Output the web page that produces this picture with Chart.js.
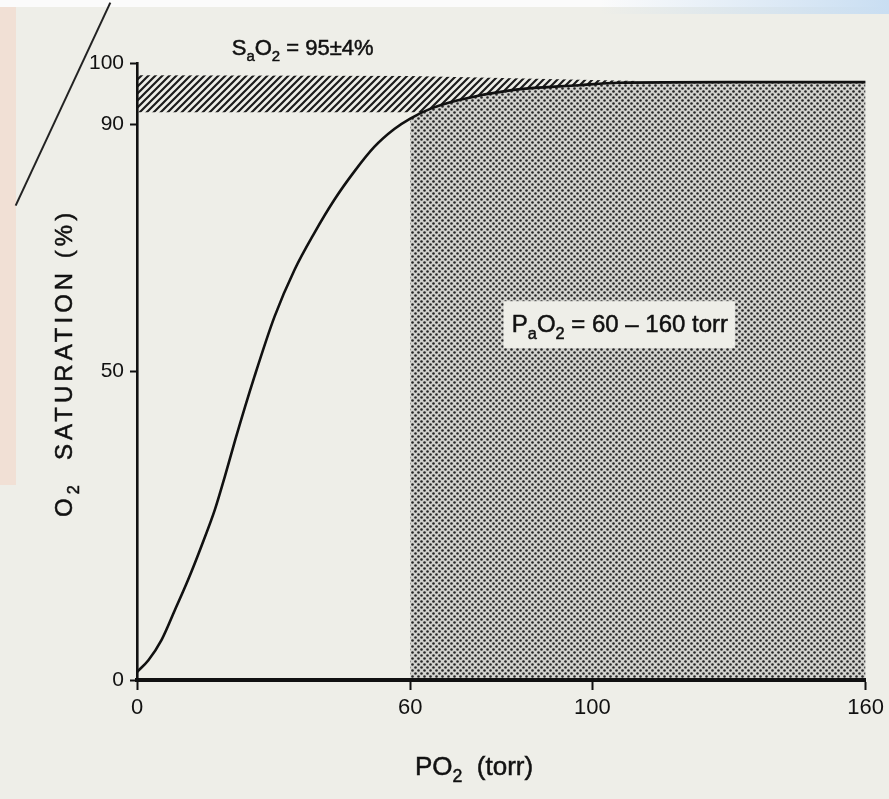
<!DOCTYPE html>
<html lang="pt-BR">
<head>
    <meta charset="UTF-8">
    <title>Curva de dissociação da oxi-hemoglobina</title>
    <script src="https://cdn.jsdelivr.net/npm/chart.js"></script>
    <style>
        body { margin: 0; background: #eeeee8; }
        #quadro { position: relative; width: 889px; height: 799px; overflow: hidden; }
        .scan { position: absolute; }
        canvas { position: absolute; left: 0; top: 0; }
    </style>
</head>
<body>
    <div id="quadro">
        <!-- marcas do scanner -->
        <div class="scan" style="left:0;top:0;width:889px;height:7px;background:#fbfbfb"></div>
        <div class="scan" style="left:600px;top:0;width:289px;height:14px;background:linear-gradient(to right, rgba(205,226,244,0), #c9def2)"></div>
        <div class="scan" style="left:0;top:7px;width:16px;height:478px;background:#f1e0d5"></div>
        <div class="scan" style="left:62px;top:-8px;width:1.6px;height:224px;background:#222;transform:rotate(25deg)"></div>
        <canvas id="grafico" width="889" height="799"></canvas>
    </div>

    <script>
        // curva: PO2 (torr) x saturação (%)
        const pO2 = [0, 2.5, 5.4, 8.3, 11.2, 14.1, 17.1, 19.3, 21.6, 25.8, 30.2, 34.6, 38.9, 43.3, 47.7, 52.1, 56.5, 60, 64.5, 70.7, 82.3, 97, 105.7, 130, 160];
        const saturacao = [1.3, 3.2, 6.5, 11.3, 16.2, 21.6, 27.6, 33, 39, 49.2, 58.9, 66.5, 72.4, 77.8, 82.4, 86.4, 89.3, 91.0, 92.6, 94, 95.6, 96.4, 96.8, 96.9, 96.9];

        // faixa hachurada SaO2 = 95 ± 4% (contorno do polígono)
        const hachuraX = [0, 60, 110, 110, 105.7, 97, 82.3, 70.7, 64.5, 62.7, 0];
        const hachuraY = [98, 97.9, 97.1, 96.8, 96.8, 96.4, 95.6, 94, 92.6, 92, 92];

        const inicioPontilhado = 60; // PaO2 = 60 - 160 torr

        const ticksX = [0, 60, 100, 160];
        const ticksY = [0, 50, 90, 100];

        const fonte = '"Liberation Sans", Arial, sans-serif';
        const tinta = '#111';

        const curva = pO2.map((x, i) => ({ x: x, y: saturacao[i] }));
        const pontilhado = curva.filter(p => p.x >= inicioPontilhado);
        const hachura = hachuraX.map((x, i) => ({ x: x, y: hachuraY[i] }));

        function padraoHachura() {
            const c = document.createElement('canvas');
            c.width = 7; c.height = 7;
            const g = c.getContext('2d');
            g.strokeStyle = '#1c1c1c';
            g.lineWidth = 2.2;
            g.beginPath();
            g.moveTo(-1, 8); g.lineTo(8, -1);
            g.moveTo(-1, 1); g.lineTo(1, -1);
            g.moveTo(6, 8); g.lineTo(8, 6);
            g.stroke();
            return g.createPattern(c, 'repeat');
        }

        function padraoPontos() {
            const c = document.createElement('canvas');
            c.width = 6; c.height = 6;
            const g = c.getContext('2d');
            g.fillStyle = '#d2d2ce';
            g.fillRect(0, 0, 6, 6);
            g.fillStyle = '#262626';
            [[1.5, 1.5], [4.5, 4.5]].forEach(([px, py]) => {
                g.beginPath(); g.arc(px, py, 1.3, 0, Math.PI * 2); g.fill();
            });
            return g.createPattern(c, 'repeat');
        }

        // escreve texto com subscritos, devolve a largura
        function escreve(ctx, x0, y0, partes, tam) {
            let cx = x0;
            partes.forEach(p => {
                const t = p.sub ? tam * 0.68 : tam;
                ctx.font = t + 'px ' + fonte;
                const yy = p.sub ? y0 + tam * 0.28 : y0;
                ctx.fillText(p.t, cx, yy);
                ctx.strokeText(p.t, cx, yy);
                cx += ctx.measureText(p.t).width;
            });
            return cx - x0;
        }

        const notas = {
            id: 'notas',
            afterDatasetsDraw(chart, args, opts) {
                const { ctx, chartArea: area, scales: { x, y } } = chart;
                ctx.save();
                ctx.textBaseline = 'alphabetic';
                ctx.textAlign = 'left';

                // caixa do PaO2
                const b = opts.caixa;
                const bx0 = x.getPixelForValue(b.x0), bx1 = x.getPixelForValue(b.x1);
                const by0 = y.getPixelForValue(b.y1), by1 = y.getPixelForValue(b.y0);
                ctx.fillStyle = '#eeeee8';
                ctx.fillRect(bx0, by0, bx1 - bx0, by1 - by0);

                ctx.fillStyle = tinta;
                ctx.strokeStyle = tinta;
                ctx.lineWidth = 0.5;
                escreve(ctx, x.getPixelForValue(opts.pa.x), y.getPixelForValue(opts.pa.y), [
                    { t: 'P' }, { t: 'a', sub: true }, { t: 'O' }, { t: '2', sub: true }, { t: ' = 60 \u2013 160 torr' }
                ], 24);

                escreve(ctx, x.getPixelForValue(opts.sa.x), y.getPixelForValue(opts.sa.y), [
                    { t: 'S' }, { t: 'a', sub: true }, { t: 'O' }, { t: '2', sub: true }, { t: ' = 95\u00b14%' }
                ], 22);

                // título do eixo x
                escreve(ctx, area.left + 278, area.bottom + 95, [
                    { t: 'PO' }, { t: '2', sub: true }, { t: '  (torr)' }
                ], 26);

                // título do eixo y
                ctx.translate(area.left - 65, area.bottom - 163);
                ctx.rotate(-Math.PI / 2);
                ctx.letterSpacing = '4px';
                escreve(ctx, 0, 0, [
                    { t: 'O' }, { t: '2', sub: true }, { t: '  SATURATION (%)' }
                ], 24);
                ctx.restore();
            }
        };

        const ctx = document.getElementById('grafico').getContext('2d');
        const grafico = new Chart(ctx, {
            type: 'line',
            data: {
                datasets: [
                    {
                        label: 'Saturação',
                        data: curva,
                        borderColor: '#111',
                        borderWidth: 2.6,
                        pointRadius: 0,
                        cubicInterpolationMode: 'monotone',
                        fill: false
                    },
                    {
                        label: 'PaO2',
                        data: pontilhado,
                        borderWidth: 0,
                        pointRadius: 0,
                        cubicInterpolationMode: 'monotone',
                        backgroundColor: padraoPontos(),
                        fill: 'origin'
                    },
                    {
                        label: 'SaO2',
                        data: hachura,
                        borderWidth: 0,
                        pointRadius: 0,
                        tension: 0,
                        backgroundColor: padraoHachura(),
                        fill: 'shape'
                    }
                ]
            },
            options: {
                responsive: false,
                animation: false,
                layout: { padding: { top: 63, right: 22, bottom: 0, left: 0 } },
                plugins: {
                    legend: { display: false },
                    tooltip: { enabled: false },
                    notas: {
                        caixa: { x0: 80.5, x1: 131.3, y0: 53.8, y1: 61.4 },
                        pa: { x: 82.3, y: 56.4 },
                        sa: { x: 20.8, y: 101.3 }
                    }
                },
                scales: {
                    x: {
                        type: 'linear',
                        min: 0,
                        max: 160,
                        afterFit: s => { s.height = 119; },
                        afterBuildTicks: s => { s.ticks = ticksX.map(v => ({ value: v })); },
                        border: { color: '#111', width: 4, z: 1 },
                        grid: { drawOnChartArea: false, tickLength: 10, tickWidth: 2, tickColor: '#111' },
                        ticks: { autoSkip: false, maxRotation: 0, padding: 5, color: tinta, font: { family: fonte, size: 22 } }
                    },
                    y: {
                        min: 0,
                        max: 100,
                        afterFit: s => { s.width = 137; },
                        afterBuildTicks: s => { s.ticks = ticksY.map(v => ({ value: v })); },
                        border: { color: '#111', width: 2.6, z: 1 },
                        grid: { drawOnChartArea: false, tickLength: 7, tickWidth: 2, tickColor: '#111' },
                        ticks: { padding: 6, color: tinta, font: { family: fonte, size: 21 } }
                    }
                }
            },
            plugins: [notas]
        });
    </script>
</body>
</html>
